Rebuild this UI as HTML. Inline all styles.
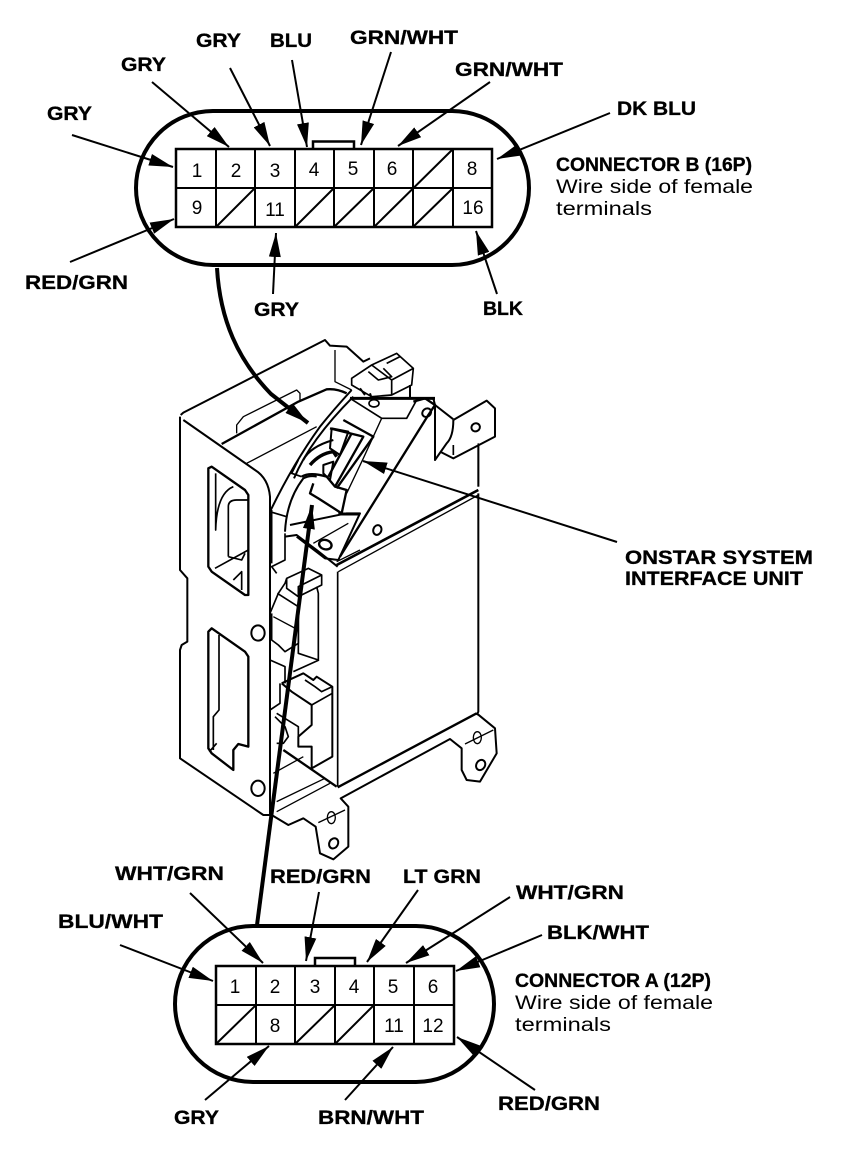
<!DOCTYPE html>
<html><head><meta charset="utf-8"><style>
html,body{margin:0;padding:0;background:#fff;width:864px;height:1166px;overflow:hidden}
svg{display:block}
text{font-family:"Liberation Sans",sans-serif;fill:#000}
.b{font-weight:bold;font-size:19px;stroke:#000;stroke-width:.3px}
.r{font-size:19px}
.n{font-size:19px;text-anchor:middle}
</style></head><body>
<svg width="864" height="1166" viewBox="0 0 864 1166">
<defs>
<marker id="a" viewBox="0 0 24 12" refX="24" refY="6" markerWidth="24" markerHeight="12" markerUnits="userSpaceOnUse" orient="auto"><path d="M0 0L24 6L0 12z" fill="#000"/></marker>
</defs>

<!-- Device drawing, coordinates in 3x units: x=170+X/3, y=330+Y/3 -->
<g transform="translate(170,330) scale(.33333)" fill="none" stroke="#000" stroke-width="6" stroke-linejoin="round">
<!-- main panel -->
<path d="M32 255L40 248L465 30L480 47L530 50L580 95L600 85"/>
<path d="M495 60V155L545 180" stroke-width="4"/>
<path d="M30 260V720L52 745V935L35 945L30 960V1285L280 1455H305"/>
<path d="M40 270L255 420Q295 445 300 500V1455"/>
<path d="M200 310V285L220 260L380 180L390 190V210" stroke-width="4"/>
<path d="M155 342L385 215L470 178Q500 175 530 190" stroke-width="7"/>
<path d="M230 400L440 290" stroke-width="4"/>
<!-- window 1 -->
<path d="M115 415L125 410L225 480L235 495V795L225 795L125 725L115 710Z" stroke-width="7"/>
<path d="M137 430V600Q140 490 190 470" stroke-width="5"/>
<path d="M175 530V680M175 530Q175 510 200 510H235" stroke-width="5"/>
<path d="M135 715L235 660M175 680L215 690L225 670M190 750L215 725V780" stroke-width="5"/>
<!-- window 2 -->
<path d="M115 905L125 895L225 965L235 980V1250L205 1242L190 1260V1320L125 1270L115 1255Z" stroke-width="7"/>
<path d="M147 915V1140L130 1160V1260M118 1265L140 1240" stroke-width="5"/>
<!-- holes -->
<ellipse cx="264" cy="909" rx="20" ry="23"/>
<ellipse cx="264" cy="1375" rx="20" ry="23"/>
<!-- main box -->
<path d="M925 345V470M925 490V1145L920 1155"/>
<path d="M503 725V1370" stroke-width="5"/>
<path d="M500 705L925 480" stroke-width="8"/>
<path d="M505 725L925 495" stroke-width="4"/>
<path d="M503 1372L920 1150" stroke-width="7"/>
<path d="M345 620L380 615L440 660L503 710" stroke-width="6"/>
<!-- flange -->
<path d="M920 1150L975 1195L980 1270L930 1355L890 1350L875 1320V1255L840 1227L512 1405L535 1430V1550L490 1588L450 1570L437 1490L400 1465L355 1485L305 1455"/>
<path d="M320 1415L465 1345M320 1445L480 1360" stroke-width="4"/>
<ellipse cx="922" cy="1223" rx="12" ry="18" stroke-width="4"/>
<path d="M885 1242L970 1200" stroke-width="4"/>
<ellipse cx="932" cy="1305" rx="13" ry="16" transform="rotate(30 932 1305)"/>
<ellipse cx="484" cy="1463" rx="12" ry="18" stroke-width="4"/>
<path d="M445 1478L525 1440" stroke-width="4"/>
<ellipse cx="491" cy="1540" rx="13" ry="16" transform="rotate(30 491 1540)"/>
<!-- upper relay (zoom: x=270+..)-->
<path d="M300 850L325 790L345 760L350 745L415 715L455 735V765L385 800L350 775V745M385 800V770L455 735" stroke-width="5"/>
<path d="M322 790L385 830L385 830V970L445 990V790L440 770" stroke-width="5"/>
<path d="M305 850V930L325 945L345 965L385 940L385 830" stroke-width="5"/>
<path d="M310 860L385 900" stroke-width="4"/>
<path d="M300 990L345 1010V1060" stroke-width="5"/>
<path d="M370 1025L447 990" stroke-width="5"/>
<!-- lower relay -->
<path d="M335 1060L400 1030L430 1050L440 1040L487 1070V1280L425 1315V1250H385V1220L425 1185V1125L365 1085L335 1060" stroke-width="6"/>
<path d="M405 1050L435 1070L455 1085L487 1070M425 1125L487 1090" stroke-width="5"/>
<path d="M330 1060V1120L300 1140" stroke-width="5"/>
<path d="M315 1160L345 1190L355 1220L340 1240L320 1240M320 1150L385 1190L385 1220" stroke-width="5"/>
<path d="M340 1260L500 1370" stroke-width="7"/>
<path d="M310 1330L400 1280" stroke-width="4"/>
<!-- harness -->
<path d="M300 545Q370 400 450 290Q490 240 545 180" stroke-width="6"/>
<path d="M372 445Q420 330 550 200" stroke-width="6"/>
<path d="M345 605Q350 510 400 445Q420 435 440 440" stroke-width="6"/>
<path d="M300 545L350 560M305 540V700M345 610V690L305 710L320 730" stroke-width="5"/>
<!-- small connector top -->
<path d="M545 145L605 105L680 70L730 115L725 165L665 195L605 200L545 165ZM605 105L665 150V195M595 125L625 150L665 140L640 115M665 150L730 115M650 100L690 80" stroke-width="5"/>
<path d="M720 165V205M570 175L585 195M600 190L605 205" stroke-width="6"/>
<!-- main bracket -->
<path d="M540 205H795" stroke-width="9"/>
<path d="M540 205L635 265H710L740 210" stroke-width="5"/>
<ellipse cx="612" cy="220" rx="15" ry="11" stroke-width="5"/>
<path d="M635 265L580 385L530 490" stroke-width="4"/>
<path d="M730 215L765 205L795 225L775 255L510 680" stroke-width="7"/>
<ellipse cx="770" cy="248" rx="14" ry="12" transform="rotate(-40 770 248)"/>
<path d="M360 585L530 550L570 550L505 690L465 685L380 620" stroke-width="6"/>
<path d="M505 552H570" stroke-width="9"/>
<ellipse cx="466" cy="644" rx="19" ry="14" transform="rotate(15 466 644)" stroke-width="7"/>
<ellipse cx="622" cy="600" rx="12" ry="15" transform="rotate(20 622 600)"/>
<path d="M500 695L570 660M430 640L535 580" stroke-width="4"/>
<!-- unit connector -->
<path d="M520 270L610 320L500 475M480 295L580 320L495 470M545 310L475 440" stroke-width="7"/>
<path d="M485 295L535 305L510 375L480 355Z" stroke-width="6"/>
<path d="M460 405L490 395L480 450L460 430Z" stroke-width="6"/>
<path d="M400 390Q420 350 490 330" stroke-width="6"/>
<path d="M420 405Q450 370 490 365L500 380" stroke-width="10"/>
<path d="M395 440Q420 425 470 440L495 470L530 480L515 550L445 505L420 490L430 460" stroke-width="7"/>
<path d="M385 390L365 430L395 440" stroke-width="5"/>
<!-- right tab -->
<path d="M850 270L950 212L975 235V320L850 385L810 365"/>
<path d="M850 270Q850 320 830 340L795 390V225L850 268M795 225L790 205"/>
<path d="M850 345V375M925 340V470" stroke-width="5"/>
<ellipse cx="917" cy="292" rx="13" ry="12" transform="rotate(-30 917 292)"/>
</g>

<!-- Wires to device -->
<g fill="none" stroke="#000">
<path d="M217 268C220 320 238 360 271 394L308 423" stroke-width="4" marker-end="url(#a)"/>
<path d="M257 925L312 505" stroke-width="4" marker-end="url(#a)"/>
<path d="M617 542L363 461" stroke-width="2" marker-end="url(#a)"/>
</g>

<!-- Connector B -->
<g fill="none" stroke="#000">
<rect x="136" y="111" width="393" height="154" rx="77" ry="77" stroke-width="4"/>
<path d="M313 149V141.500H354V149" stroke-width="2.5"/>
<rect x="176" y="149" width="316" height="78" stroke-width="2.500"/>
<path d="M176 188H492M216 149V227M255 149V227M295 149V227M334 149V227M374 149V227M413 149V227M453 149V227" stroke-width="2"/>
<path d="M216 227L255 188M295 227L334 188M334 227L374 188M374 227L453 149M413 227L453 188" stroke-width="2"/>
</g>
<text class="n" x="197" y="177">1</text><text class="n" x="236" y="177">2</text><text class="n" x="275" y="177">3</text><text class="n" x="314" y="176">4</text><text class="n" x="353" y="175">5</text><text class="n" x="392" y="175">6</text><text class="n" x="472" y="175">8</text>
<text class="n" x="197" y="214">9</text><text class="n" x="275" y="216">11</text><text class="n" x="473" y="214">16</text>

<!-- Connector A -->
<g fill="none" stroke="#000">
<rect x="175" y="926" width="319" height="156" rx="78" ry="78" stroke-width="4"/>
<path d="M315 966V958H355V966" stroke-width="2.5"/>
<rect x="216" y="966" width="238" height="78" stroke-width="2.500"/>
<path d="M216 1005H454M256 966V1044M295 966V1044M335 966V1044M374 966V1044M414 966V1044" stroke-width="2"/>
<path d="M216 1044L256 1005M295 1044L335 1005M335 1044L374 1005" stroke-width="2"/>
</g>
<text class="n" x="235" y="993">1</text><text class="n" x="275" y="993">2</text><text class="n" x="315" y="993">3</text><text class="n" x="354" y="993">4</text><text class="n" x="393" y="993">5</text><text class="n" x="433" y="993">6</text>
<text class="n" x="275" y="1032">8</text><text class="n" x="394" y="1032">11</text><text class="n" x="433" y="1032">12</text>

<!-- Leader arrows -->
<g stroke="#000" stroke-width="2" fill="none">
<line x1="72" y1="135" x2="173" y2="167" marker-end="url(#a)"/>
<line x1="152" y1="82" x2="229" y2="147" marker-end="url(#a)"/>
<line x1="230" y1="68" x2="270" y2="146" marker-end="url(#a)"/>
<line x1="292" y1="60" x2="307" y2="147" marker-end="url(#a)"/>
<line x1="391" y1="52" x2="361" y2="145" marker-end="url(#a)"/>
<line x1="490" y1="82" x2="398" y2="146" marker-end="url(#a)"/>
<line x1="610" y1="113" x2="497" y2="159" marker-end="url(#a)"/>
<line x1="70" y1="262" x2="174" y2="219" marker-end="url(#a)"/>
<line x1="273" y1="294" x2="276" y2="233" marker-end="url(#a)"/>
<line x1="497" y1="294" x2="476" y2="231" marker-end="url(#a)"/>
<line x1="120" y1="945" x2="213" y2="981" marker-end="url(#a)"/>
<line x1="190" y1="893" x2="263" y2="963" marker-end="url(#a)"/>
<line x1="319" y1="892" x2="306" y2="961" marker-end="url(#a)"/>
<line x1="418" y1="890" x2="367" y2="962" marker-end="url(#a)"/>
<line x1="510" y1="897" x2="406" y2="963" marker-end="url(#a)"/>
<line x1="542" y1="935" x2="456" y2="971" marker-end="url(#a)"/>
<line x1="205" y1="1100" x2="269" y2="1046" marker-end="url(#a)"/>
<line x1="345" y1="1100" x2="393" y2="1047" marker-end="url(#a)"/>
<line x1="535" y1="1090" x2="457" y2="1037" marker-end="url(#a)"/>
</g>

<!-- Labels -->
<text class="b" x="47" y="120" textLength="45" lengthAdjust="spacingAndGlyphs">GRY</text>
<text class="b" x="121" y="71" textLength="45" lengthAdjust="spacingAndGlyphs">GRY</text>
<text class="b" x="196" y="47" textLength="45" lengthAdjust="spacingAndGlyphs">GRY</text>
<text class="b" x="270" y="47" textLength="42" lengthAdjust="spacingAndGlyphs">BLU</text>
<text class="b" x="350" y="44" textLength="108" lengthAdjust="spacingAndGlyphs">GRN/WHT</text>
<text class="b" x="455" y="76" textLength="108" lengthAdjust="spacingAndGlyphs">GRN/WHT</text>
<text class="b" x="617" y="115" textLength="79" lengthAdjust="spacingAndGlyphs">DK BLU</text>
<text class="b" x="556" y="171" textLength="196" lengthAdjust="spacingAndGlyphs">CONNECTOR B (16P)</text>
<text class="r" x="556" y="193" textLength="197" lengthAdjust="spacingAndGlyphs">Wire side of female</text>
<text class="r" x="556" y="215" textLength="96" lengthAdjust="spacingAndGlyphs">terminals</text>
<text class="b" x="25" y="289" textLength="103" lengthAdjust="spacingAndGlyphs">RED/GRN</text>
<text class="b" x="254" y="316" textLength="45" lengthAdjust="spacingAndGlyphs">GRY</text>
<text class="b" x="483" y="315" textLength="40" lengthAdjust="spacingAndGlyphs">BLK</text>
<text class="b" x="625" y="564" textLength="188" lengthAdjust="spacingAndGlyphs">ONSTAR SYSTEM</text>
<text class="b" x="625" y="585" textLength="178" lengthAdjust="spacingAndGlyphs">INTERFACE UNIT</text>
<text class="b" x="115" y="880" textLength="109" lengthAdjust="spacingAndGlyphs">WHT/GRN</text>
<text class="b" x="270" y="883" textLength="101" lengthAdjust="spacingAndGlyphs">RED/GRN</text>
<text class="b" x="403" y="883" textLength="78" lengthAdjust="spacingAndGlyphs">LT GRN</text>
<text class="b" x="516" y="899" textLength="108" lengthAdjust="spacingAndGlyphs">WHT/GRN</text>
<text class="b" x="58" y="928" textLength="105" lengthAdjust="spacingAndGlyphs">BLU/WHT</text>
<text class="b" x="547" y="939" textLength="102" lengthAdjust="spacingAndGlyphs">BLK/WHT</text>
<text class="b" x="515" y="987" textLength="196" lengthAdjust="spacingAndGlyphs">CONNECTOR A (12P)</text>
<text class="r" x="515" y="1009" textLength="198" lengthAdjust="spacingAndGlyphs">Wire side of female</text>
<text class="r" x="515" y="1031" textLength="96" lengthAdjust="spacingAndGlyphs">terminals</text>
<text class="b" x="174" y="1124" textLength="45" lengthAdjust="spacingAndGlyphs">GRY</text>
<text class="b" x="318" y="1124" textLength="106" lengthAdjust="spacingAndGlyphs">BRN/WHT</text>
<text class="b" x="498" y="1110" textLength="102" lengthAdjust="spacingAndGlyphs">RED/GRN</text>
</svg>
</body></html>
